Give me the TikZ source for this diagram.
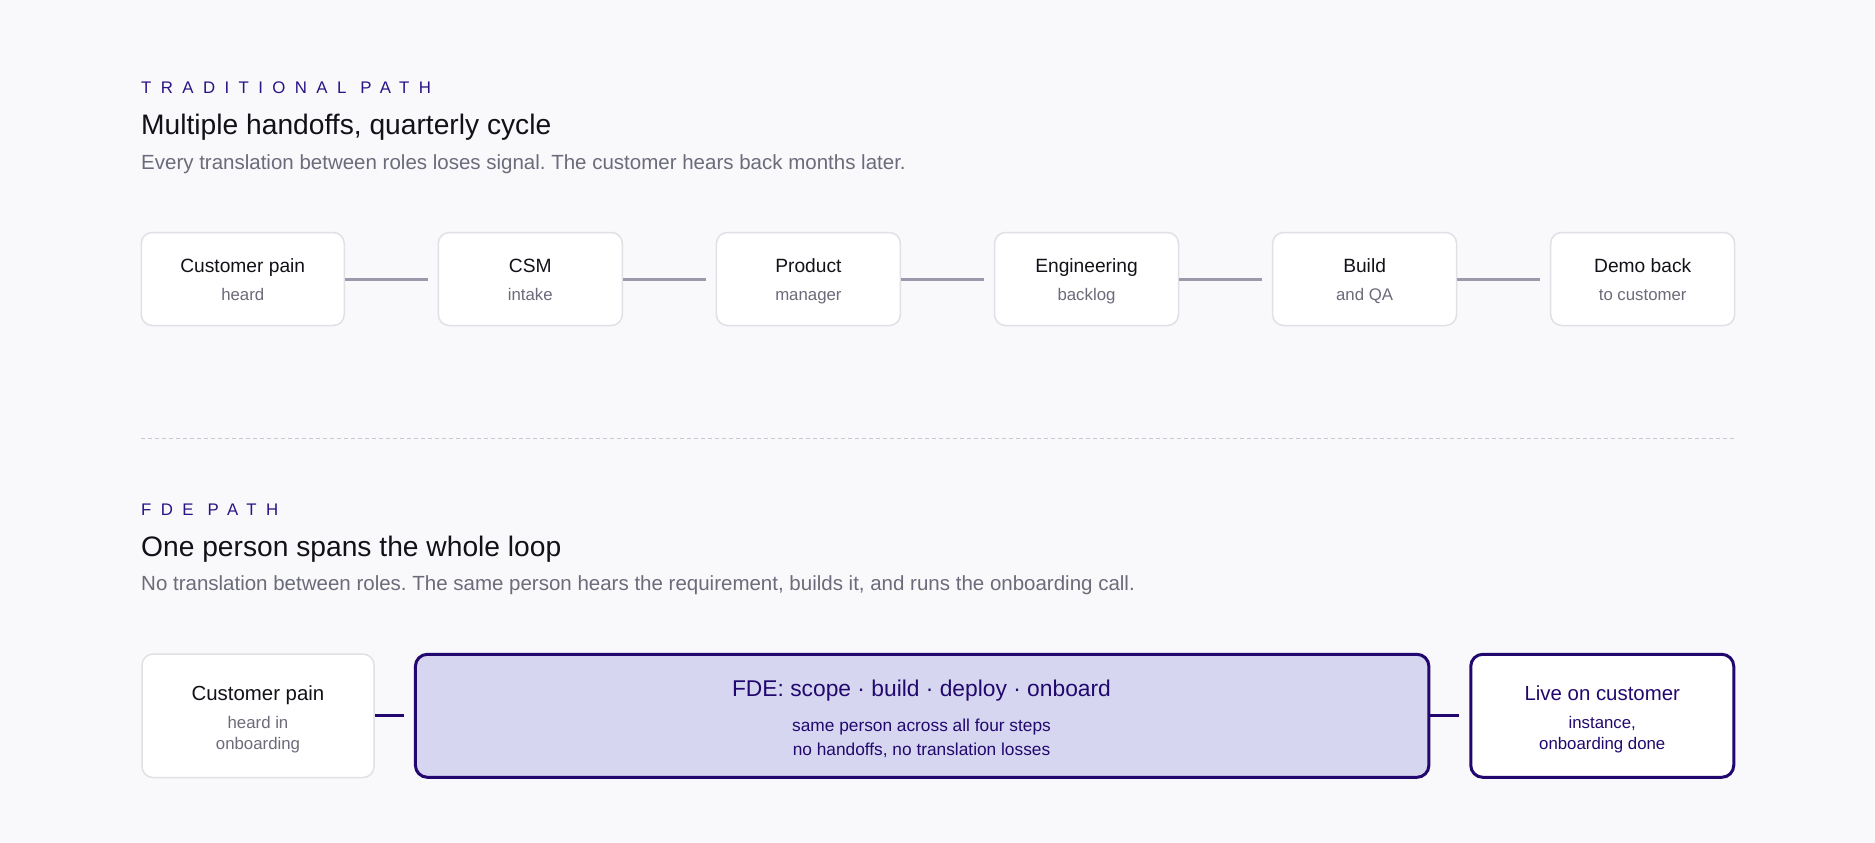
\documentclass[tikz,border=0pt]{standalone}
\usepackage{fontspec}
\setmainfont{Liberation Sans}
\newfontfamily\trackfont[LetterSpace=56]{Liberation Sans}
\frenchspacing
\definecolor{bgc}{HTML}{F9F9FC}
\definecolor{indigo}{HTML}{22086E}
\definecolor{labelc}{HTML}{2B1285}
\definecolor{lav}{HTML}{D6D6F0}
\definecolor{titlec}{HTML}{111118}
\definecolor{subc}{HTML}{6B6B7A}
\definecolor{connc}{HTML}{9A9AAC}
\definecolor{boxline}{HTML}{E0E0E6}
\definecolor{dashc}{HTML}{C8C8D2}
\tikzset{
  fsz/.style={font=\frenchspacing\fontsize{#1}{#1}\selectfont},
  txt/.style={inner sep=0pt, anchor=base},
  lefttxt/.style={inner sep=0pt, anchor=base west},
  tbox/.style={draw=boxline, fill=white, line width=1.5pt, rounded corners=11pt, inner sep=0pt},
  fdebox/.style={draw=indigo, fill=lav, line width=3pt, rounded corners=12pt, inner sep=0pt},
  livebox/.style={draw=indigo, fill=white, line width=3pt, rounded corners=12pt, inner sep=0pt},
  grayconn/.style={draw=connc, line width=3pt},
  indconn/.style={draw=indigo, line width=3pt},
}
\begin{document}
\begin{tikzpicture}[x=1pt,y=-1pt]
\fill[bgc] (0,0) rectangle (1875,843);
\useasboundingbox (0,0) rectangle (1875,843);

% ---------- Traditional path ----------
\node[lefttxt, text=labelc, font=\trackfont\fontsize{16.8}{16.8}\selectfont] (lab1) at (141,94) {TRADITIONAL PATH};
\node[lefttxt, text=titlec, fsz=28.2] (tit1) at (141,134) {Multiple handoffs, quarterly cycle};
\node[lefttxt, text=subc, fsz=20.5] (sub1) at (141,169.3) {Every translation between roles loses signal. The customer hears back months later.};

\node[tbox, minimum width=203pt, minimum height=93pt] (t1) at (242.75,279) {};
\node[tbox, minimum width=184pt, minimum height=93pt] (t2) at (530.3,279) {};
\node[tbox, minimum width=184pt, minimum height=93pt] (t3) at (808.4,279) {};
\node[tbox, minimum width=184pt, minimum height=93pt] (t4) at (1086.5,279) {};
\node[tbox, minimum width=184pt, minimum height=93pt] (t5) at (1364.6,279) {};
\node[tbox, minimum width=184pt, minimum height=93pt] (t6) at (1642.7,279) {};

\foreach \n/\x/\a/\b in {1/242.75/Customer pain/heard, 2/530.3/CSM/intake, 3/808.4/Product/manager, 4/1086.5/Engineering/backlog, 5/1364.6/Build/and QA, 6/1642.7/Demo back/to customer}{
  \node[txt, text=titlec, fsz=19.2] (t\n a) at (\x,272.3) {\a};
  \node[txt, text=subc, fsz=16.8] (t\n b) at (\x,300) {\b};
}

\foreach \i/\j in {1/2,2/3,3/4,4/5,5/6}{
  \draw[grayconn] (t\i.east) -- ([xshift=-10pt]t\j.west);
}

% ---------- divider ----------
\coordinate (d1) at (141,438);
\coordinate (d2) at (1735,438);
\draw[dashc, line width=1pt, dash pattern=on 4pt off 3pt] (d1) -- (d2);

% ---------- FDE path ----------
\node[lefttxt, text=labelc, font=\trackfont\fontsize{16.8}{16.8}\selectfont] (lab2) at (141,515.7) {FDE PATH};
\node[lefttxt, text=titlec, fsz=28.2] (tit2) at (141,556) {One person spans the whole loop};
\node[lefttxt, text=subc, fsz=20.5] (sub2) at (141,590.7) {No translation between roles. The same person hears the requirement, builds it, and runs the onboarding call.};

\node[tbox, minimum width=232pt, minimum height=123.5pt] (b1) at (258,715.8) {};
\node[fdebox, minimum width=1013.5pt, minimum height=123pt] (b2) at (922.15,715.8) {};
\node[livebox, minimum width=263pt, minimum height=123pt] (b3) at (1602.25,715.8) {};

\node[txt, text=titlec, fsz=20.4] (b1a) at (258,700) {Customer pain};
\node[txt, text=subc, fsz=16.8] (b1b) at (258,728) {heard in};
\node[txt, text=subc, fsz=16.8] (b1c) at (258,749) {onboarding};

\node[txt, text=indigo, fsz=22.8] (b2a) at (921.5,696.7) {FDE: scope · build · deploy · onboard};
\node[txt, text=indigo, fsz=17.3] (b2b) at (921.5,731) {same person across all four steps};
\node[txt, text=indigo, fsz=17.3] (b2c) at (921.5,755.7) {no handoffs, no translation losses};

\node[txt, text=indigo, fsz=20.4] (b3a) at (1602.25,700) {Live on customer};
\node[txt, text=indigo, fsz=16.8] (b3b) at (1602.25,728) {instance,};
\node[txt, text=indigo, fsz=16.8] (b3c) at (1602.25,749) {onboarding done};

\draw[indconn] (b1.east) -- ([xshift=-10pt]b2.west);
\draw[indconn] (b2.east) -- ([xshift=-10pt]b3.west);
\end{tikzpicture}
\end{document}
